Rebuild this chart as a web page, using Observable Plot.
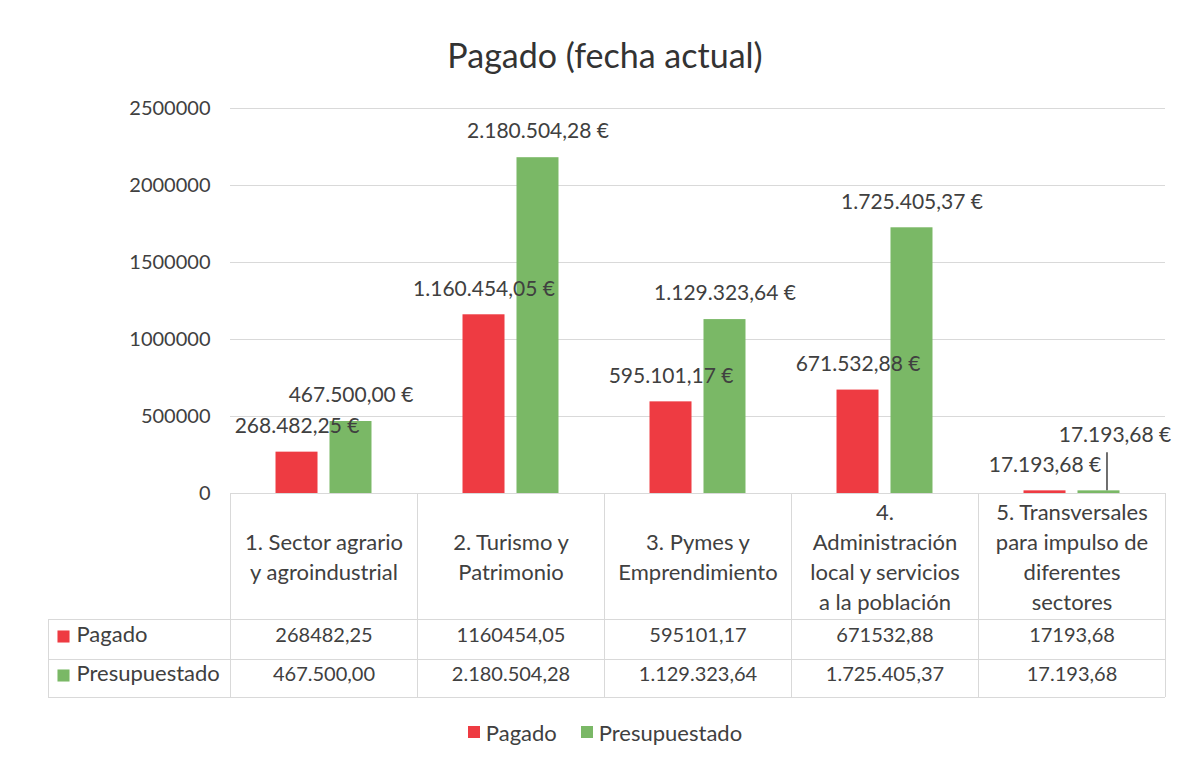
<!DOCTYPE html>
<html>
<head>
<meta charset="utf-8">
<script src="https://cdn.jsdelivr.net/npm/d3@7"></script>
<script src="https://cdn.jsdelivr.net/npm/@observablehq/plot@0.6"></script>
<style>
  html, body { margin: 0; padding: 0; background: #fff; }
  #wrap { position: relative; width: 1195px; height: 765px; font-family: Lato, "Open Sans", sans-serif; color: #404040; }
  #title { position: absolute; left: 45px; width: 1120px; top: 32px; line-height: 46px; font-size: 34px; text-align: center; color: #333; }
  #chart { position: absolute; left: 0; top: 90px; }
  #legend { position: absolute; left: 45px; width: 1120px; top: 718px; height: 28px; display: flex; justify-content: center; align-items: center; gap: 24px; font-size: 22px; color: #404040; }
  #legend .item { display: flex; align-items: center; gap: 6px; }
  #legend .sw { width: 12px; height: 12px; display: inline-block; }
</style>
</head>
<body>
<div id="wrap">
  <div id="title">Pagado (fecha actual)</div>
  <div id="chart"></div>
  <div id="legend"></div>
</div>
<script>
// ---- data ----
const categories = [
  "1. Sector agrario y agroindustrial",
  "2. Turismo y Patrimonio",
  "3. Pymes y Emprendimiento",
  "4. Administración local y servicios a la población",
  "5. Transversales para impulso de diferentes sectores"
];
const categoryLabels = [
  "1. Sector agrario\ny agroindustrial",
  "2. Turismo y\nPatrimonio",
  "3. Pymes y\nEmprendimiento",
  "4.\nAdministración\nlocal y servicios\na la población",
  "5. Transversales\npara impulso de\ndiferentes\nsectores"
];
const series = ["Pagado", "Presupuestado"];
const pagado = [268482.25, 1160454.05, 595101.17, 671532.88, 17193.68];
const presupuestado = [467500.00, 2180504.28, 1129323.64, 1725405.37, 17193.68];
const seriesColors = ["#ee3b42", "#7ab866"];
const yTicks = [0, 500000, 1000000, 1500000, 2000000, 2500000];

// ---- formatting ----
const loc = d3.formatLocale({decimal: ",", thousands: ".", grouping: [3], currency: ["", " €"]});
const fmtGroup = loc.format(",.2f");
const fmtPlain = loc.format(".2f");
const fmtLabel = v => fmtGroup(v) + " €";

const rows = categories.flatMap((c, i) => [
  {cat: c, series: series[0], value: pagado[i], idx: i},
  {cat: c, series: series[1], value: presupuestado[i], idx: i}
]);
const lastCat = categories[categories.length - 1];
const isMoved = d => d.cat === lastCat && d.series === series[1];

const W = 1195, ML = 230, MR = 30;
const band = (W - ML - MR) / categories.length;
const lineColor = "#d9d9d9";
const txt = "#404040";
const fsNum = 20, fsWord = 22, fsLabel = 21;
const rowDy = [148, 187];
const lineDy = [126, 166, 204];
const firstColW = 182;
const firstCat = categories[0];

const marks = [
  // gridlines
  Plot.ruleY(yTicks.slice(1), {stroke: lineColor}),
  // bars
  Plot.barY(rows, {fx: "cat", x: "series", y: "value", fill: "series"}),
  // data labels
  Plot.text(rows.filter(d => !isMoved(d)), {fx: "cat", x: "series", y: "value", text: d => fmtLabel(d.value), dy: -26, fill: txt, fontSize: fsLabel}),
  Plot.text(rows.filter(isMoved), {fx: "cat", x: "series", y: "value", text: d => fmtLabel(d.value), dx: 16, dy: -56, fill: txt, fontSize: fsLabel}),
  Plot.ruleX(rows.filter(isMoved), {fx: "cat", x: "series", y1: "value", y2: "value", insetTop: -38, dx: 8, stroke: "#222", strokeWidth: 1.3}),
  // table: horizontal lines
  Plot.ruleY([0], {stroke: lineColor}),
  ...lineDy.map(dy => Plot.ruleY([0], {stroke: lineColor, dy})),
  ...lineDy.map(dy => Plot.ruleY([firstCat], {fx: d => d, y: () => 0, insetLeft: -firstColW, dy, stroke: lineColor})),
  // table: vertical lines
  Plot.ruleX(categories, {fx: d => d, x: null, y1: () => 0, y2: () => 0, insetBottom: -204, dx: -band / 2, stroke: lineColor}),
  Plot.ruleX([lastCat], {fx: d => d, x: null, y1: () => 0, y2: () => 0, insetBottom: -204, dx: band / 2, stroke: lineColor}),
  Plot.ruleX([firstCat], {fx: d => d, x: null, y1: () => 0, y2: () => 0, insetTop: lineDy[0], insetBottom: -204, dx: -band / 2 - firstColW, stroke: lineColor}),
  // table: header (category names)
  Plot.text(categories, {fx: d => d, text: (d, i) => categoryLabels[i], frameAnchor: "bottom", dy: 62, lineAnchor: "middle", lineHeight: 1.37, fill: txt, fontSize: fsWord}),
  // table: values
  Plot.text(rows.filter(d => d.series === series[0]), {fx: "cat", text: d => fmtPlain(d.value), frameAnchor: "bottom", dy: rowDy[0], fill: txt, fontSize: fsNum}),
  Plot.text(rows.filter(d => d.series === series[1]), {fx: "cat", text: d => fmtGroup(d.value), frameAnchor: "bottom", dy: rowDy[1], fill: txt, fontSize: fsNum}),
  // table: row headers
  ...series.map((s, i) => Plot.dot([s], {fx: () => firstCat, frameAnchor: "bottom-left", dx: -167, dy: rowDy[i] - 5, symbol: "square", r: 6.8, fill: seriesColors[i]})),
  ...series.map((s, i) => Plot.text([s], {fx: () => firstCat, text: d => d, frameAnchor: "bottom-left", dx: -154, dy: rowDy[i], textAnchor: "start", fill: txt, fontSize: fsWord}))
];

const chart = Plot.plot({
  width: W,
  height: 612,
  marginTop: 18,
  marginLeft: ML,
  marginRight: MR,
  marginBottom: 209,
  style: {fontFamily: "Lato, 'Open Sans', sans-serif", fontSize: "20px", color: "#404040", background: "transparent", overflow: "visible"},
  fx: {domain: categories, padding: 0, axis: null, round: false},
  x: {domain: series, paddingInner: 0.222, paddingOuter: 0.843, axis: null, round: false},
  y: {domain: [0, 2500000], ticks: yTicks, tickFormat: d3.format("d"), tickSize: 0, tickPadding: 20, label: null},
  color: {domain: series, range: seriesColors},
  marks
});
document.getElementById("chart").appendChild(chart);

// legend
const legend = document.getElementById("legend");
series.forEach((s, i) => {
  const item = document.createElement("span");
  item.className = "item";
  const sw = document.createElement("span");
  sw.className = "sw";
  sw.style.background = seriesColors[i];
  const t = document.createElement("span");
  t.textContent = s;
  item.appendChild(sw);
  item.appendChild(t);
  legend.appendChild(item);
});
</script>
</body>
</html>
